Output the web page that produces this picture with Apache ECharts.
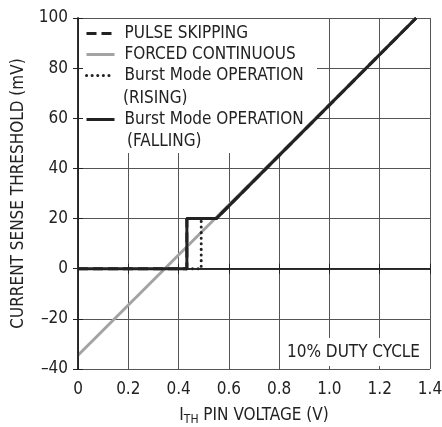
<!DOCTYPE html>
<html>
<head>
<meta charset="utf-8">
<script src="https://cdn.jsdelivr.net/npm/echarts@6/dist/echarts.min.js"></script>
<style>
  html, body { margin: 0; padding: 0; background: #fff; }
  #chart { width: 442px; height: 427px; }
</style>
</head>
<body>
<div id="chart"></div>
<script>
  // data
  let xTicks = [0, 0.2, 0.4, 0.6, 0.8, 1.0, 1.2, 1.4];
  let yTicks = [-40, -20, 0, 20, 40, 60, 80, 100];
  let forcedContinuous = [[0, -34.5], [1.345, 100]];
  let pulseSkipping = [[0, 0], [0.433, 0], [0.433, 20], [0.55, 20], [1.345, 100]];
  let burstRising = [[0.433, 0], [0.49, 0], [0.49, 20], [0.55, 20]];
  let burstFalling = [[0, 0], [0.433, 0], [0.433, 20], [0.55, 20], [1.345, 100]];

  let font = "'DejaVu Sans Condensed', 'Liberation Sans Narrow', 'Arial Narrow', sans-serif";
  let ink = '#222';

  let chart = echarts.init(document.getElementById('chart'));

  let xBase = { type: 'value', min: xTicks[0], max: xTicks[xTicks.length - 1], interval: 0.2, gridIndex: 0 };
  let yBase = { type: 'value', min: yTicks[0], max: yTicks[yTicks.length - 1], interval: 20, gridIndex: 0 };

  let legendText = { fontSize: 17, fontFamily: font, color: ink, padding: [0, 0, 0, 5] };

  let option = {
    animation: false,
    backgroundColor: '#fff',
    textStyle: { fontFamily: font, color: ink },
    grid: { left: 78, right: 12, top: 18, bottom: 58, outerBoundsMode: 'none', containLabel: false },
    xAxis: [
      Object.assign({}, xBase, {
        position: 'bottom', z: 3,
        axisLine: { show: true, lineStyle: { color: ink, width: 1.5 } },
        axisTick: { show: true, inside: true, length: 5, lineStyle: { color: ink } },
        axisLabel: {
          margin: 12, fontSize: 17, color: ink, fontFamily: font,
          formatter: function (v) { return v === 0 ? '0' : v.toFixed(1); }
        },
        splitLine: { show: false },
        name: '{a|I}{s|TH}{a| PIN VOLTAGE (V)}',
        nameLocation: 'middle', nameGap: 37,
        nameTextStyle: {
          fontFamily: font, color: ink,
          rich: {
            a: { fontSize: 17, fontFamily: font, color: ink },
            s: { fontSize: 12, fontFamily: font, color: ink, padding: [8, 0, 0, 0] }
          }
        }
      }),
      Object.assign({}, xBase, {
        position: 'bottom', z: 0,
        axisLine: { show: false }, axisTick: { show: false }, axisLabel: { show: false },
        splitLine: { show: true, lineStyle: { color: '#555', width: 1 } }
      }),
      Object.assign({}, xBase, {
        position: 'top', z: 3,
        axisLine: { show: true, lineStyle: { color: ink, width: 1.5 } },
        axisTick: { show: true, inside: true, length: 5, lineStyle: { color: ink } },
        axisLabel: { show: false }, splitLine: { show: false }
      })
    ],
    yAxis: [
      Object.assign({}, yBase, {
        position: 'left', z: 3,
        axisLine: { show: true, lineStyle: { color: ink, width: 1.5 } },
        axisTick: { show: true, inside: true, length: 5, lineStyle: { color: ink } },
        axisLabel: {
          margin: 10, fontSize: 17, color: ink, fontFamily: font,
          formatter: function (v) { return String(v).replace('-', '\u2013'); }
        },
        splitLine: { show: false },
        name: 'CURRENT SENSE THRESHOLD (mV)',
        nameLocation: 'middle', nameGap: 51,
        nameTextStyle: { fontSize: 17, fontFamily: font, color: ink }
      }),
      Object.assign({}, yBase, {
        position: 'left', z: 0,
        axisLine: { show: false }, axisTick: { show: false }, axisLabel: { show: false },
        splitLine: { show: true, lineStyle: { color: '#555', width: 1 } }
      }),
      Object.assign({}, yBase, {
        position: 'right', z: 3,
        axisLine: { show: true, lineStyle: { color: ink, width: 1.5 } },
        axisTick: { show: true, inside: true, length: 5, lineStyle: { color: ink } },
        axisLabel: { show: false }, splitLine: { show: false }
      })
    ],
    legend: [
      {
        orient: 'vertical', left: 85, top: 25, padding: 0,
        itemWidth: 28, itemHeight: 14, itemGap: 4,
        itemStyle: { opacity: 0, borderWidth: 0 },
        lineStyle: { width: 3 },
        data: ['PULSE SKIPPING', 'FORCED CONTINUOUS', 'Burst Mode OPERATION (RISING)'],
        formatter: function (n) { return n.replace(' (RISING)', ''); },
        textStyle: legendText
      },
      {
        orient: 'vertical', left: 85, top: 111, padding: 0,
        itemWidth: 28, itemHeight: 14,
        itemStyle: { opacity: 0, borderWidth: 0 },
        lineStyle: { width: 3 },
        data: ['Burst Mode OPERATION (FALLING)'],
        formatter: function (n) { return n.replace(' (FALLING)', ''); },
        textStyle: legendText
      }
    ],
    graphic: [
      // white patches that hide the grid behind the legend and the note
      { type: 'rect', z: 1, silent: true, shape: { x: 80, y: 19, width: 237, height: 134 }, style: { fill: '#fff' } },
      { type: 'rect', z: 1, silent: true, shape: { x: 284, y: 338, width: 145, height: 28 }, style: { fill: '#fff' } },
      { type: 'text', z: 5, left: 123, top: 90, style: { text: '(RISING)', font: '17px ' + font, fill: ink } },
      { type: 'text', z: 5, left: 127, top: 133, style: { text: '(FALLING)', font: '17px ' + font, fill: ink } },
      { type: 'text', z: 5, left: 287, top: 344, style: { text: '10% DUTY CYCLE', font: '17px ' + font, fill: ink } }
    ],
    series: [
      {
        name: 'FORCED CONTINUOUS', type: 'line', data: forcedContinuous,
        showSymbol: false, symbol: 'none', z: 2,
        lineStyle: { color: '#a3a3a3', width: 3 }, itemStyle: { color: '#a3a3a3' }
      },
      {
        name: 'PULSE SKIPPING', type: 'line', data: pulseSkipping,
        showSymbol: false, symbol: 'none', z: 2,
        lineStyle: { color: ink, width: 3, type: [10, 5] }, itemStyle: { color: ink }
      },
      {
        name: 'Burst Mode OPERATION (RISING)', type: 'line', data: burstRising,
        showSymbol: false, symbol: 'none', z: 2,
        lineStyle: { color: ink, width: 3, type: [0.1, 5.5], cap: 'round' }, itemStyle: { color: ink }
      },
      {
        name: 'Burst Mode OPERATION (FALLING)', type: 'line', data: burstFalling,
        showSymbol: false, symbol: 'none', z: 3,
        lineStyle: { color: ink, width: 3 }, itemStyle: { color: ink }
      }
    ]
  };

  chart.setOption(option);
</script>
</body>
</html>
